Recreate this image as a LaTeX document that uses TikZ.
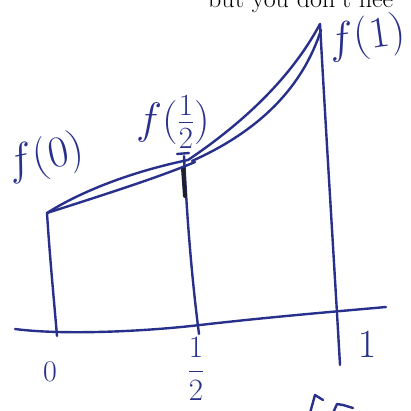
\RequirePackage{fix-cm}
\documentclass[tikz,border=0pt]{standalone}
\usepackage{fontspec}
\usepackage{amsmath}
\definecolor{penblue}{RGB}{40,48,140}
\definecolor{pendark}{RGB}{30,30,45}
\begin{document}
\begin{tikzpicture}[x=1pt,y=-1pt,
  pen/.style={draw=penblue,line width=2.4pt,line cap=round,line join=round},
  hand/.style={text=penblue,inner sep=0pt,font=\fontsize{44}{48}\selectfont},
  handsm/.style={text=penblue,inner sep=0pt,font=\fontsize{30}{34}\selectfont}]
\useasboundingbox (0,0) rectangle (411,411);
\clip (0,0) rectangle (411,411);
% printed text at top
\node[anchor=base west,inner sep=0pt,font=\fontsize{26}{28}\selectfont] (txt) at (208,8) {but you don't nee};
% named key points
\coordinate (A0) at (47,213);
\coordinate (A1) at (188,160);
\coordinate (A2) at (320,24);
\coordinate (B0) at (57,336);
\coordinate (B1) at (199,334);
\coordinate (B2) at (340,365);
\coordinate (axL) at (15,329);
\coordinate (axR) at (386,307);
% axis
\draw[pen] (axL) .. controls (60,335) and (140,332) .. (200,325) .. controls (270,317) and (330,312) .. (axR);
% verticals
\draw[pen] (A0) .. controls (50,260) and (54,300) .. (B0);
\draw[pen] (184,156) .. controls (187,220) and (192,280) .. (B1);
\draw[pen] (A2) .. controls (327,150) and (334,260) .. (B2);
\draw[pen] (177,154) -- (189,153);
\draw[draw=pendark,line width=4pt,line cap=round] (183,168) -- (185,196);
% chord and curve, 0 to 1/2
\draw[pen] (A0) .. controls (100,196) and (160,177) .. (195,162);
\draw[pen] (A0) .. controls (80,192) and (130,172) .. (A1);
% chord and curve, 1/2 to 1
\draw[pen] (A1) .. controls (240,125) and (290,80) .. (A2);
\draw[pen] (192,161) .. controls (250,135) and (300,95) .. (321,30);
% labels
\node[hand,rotate=12] (f0) at (46,158) {$f(0)$};
\node[hand] (fh) at (173,122) {$f(\frac{1}{2})$};
\node[hand,rotate=8] (f1) at (367,38) {$f(1)$};
\node[handsm] (l0) at (50,372) {$0$};
\node[handsm,font=\fontsize{31}{35}\selectfont] (lh) at (196,369) {$\dfrac{1}{2}$};
\node[handsm,font=\fontsize{40}{44}\selectfont] (l1) at (367,345) {$1$};
% partial strokes at bottom edge
\draw[pen] (310,413) -- (315,395) -- (323,400);
\draw[pen] (333,413) -- (337,404) -- (343,405) -- (353,408);
\end{tikzpicture}
\end{document}
